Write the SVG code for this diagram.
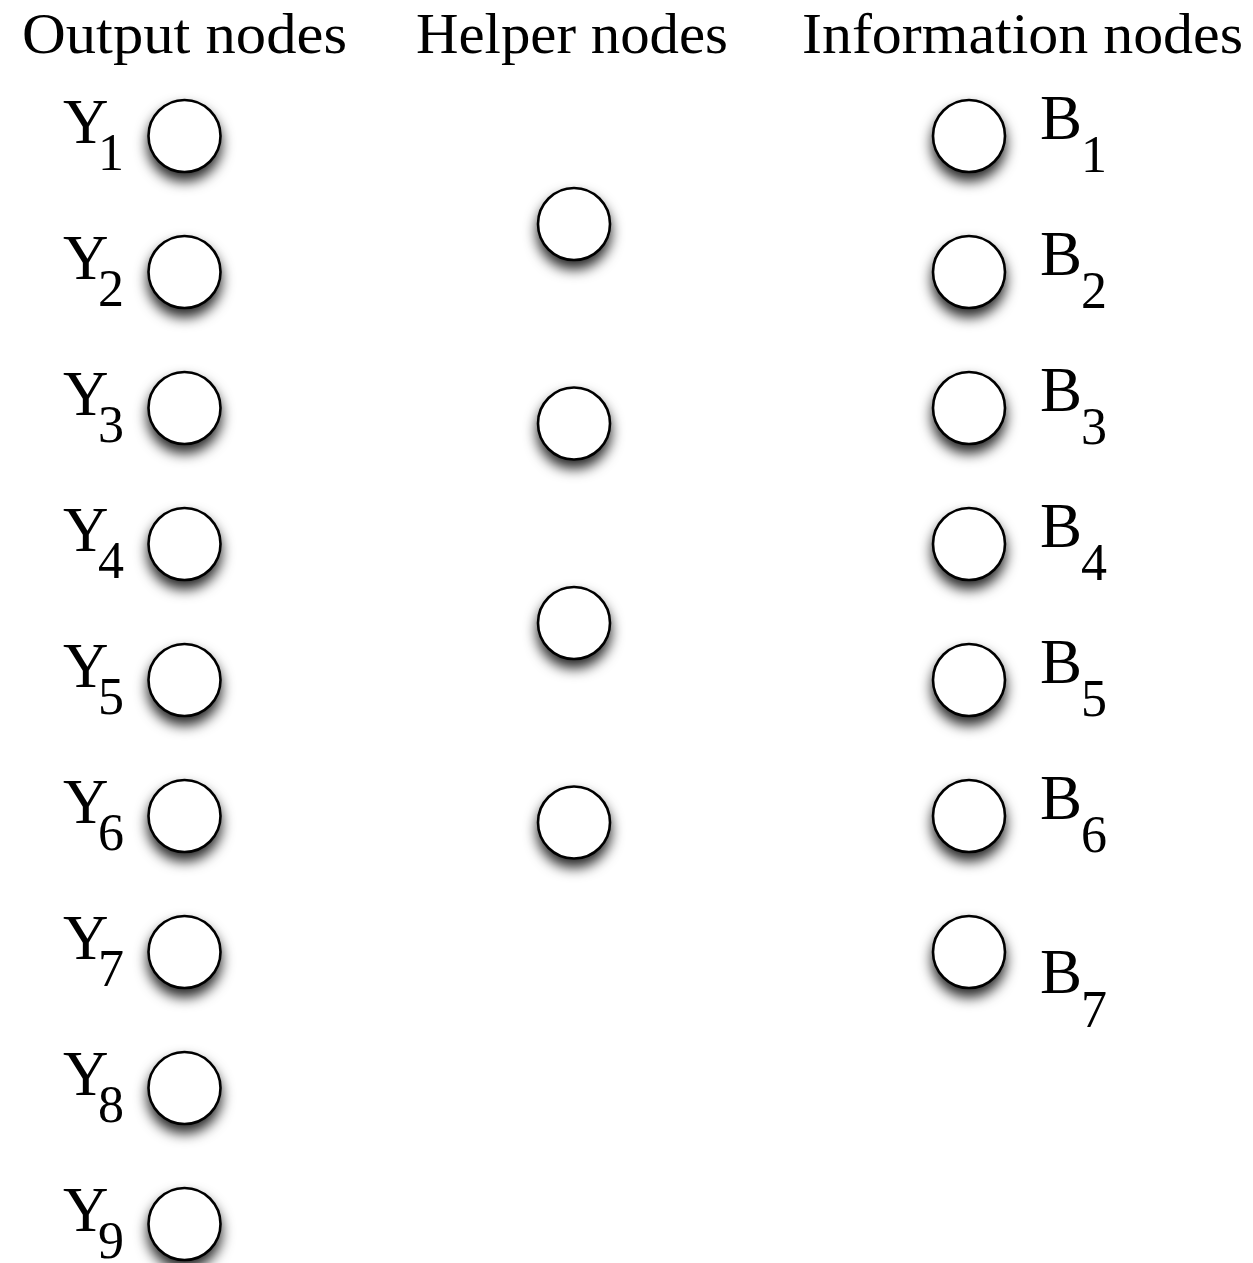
<svg xmlns="http://www.w3.org/2000/svg" width="1253" height="1263" viewBox="0 0 1253 1263">
  <style>
    .head { font-family: "Liberation Serif", "Times New Roman", serif; font-size: 57px; fill: #000; }
    .lbl { font-family: "Liberation Serif", "Times New Roman", serif; font-size: 63px; fill: #000; }
    .sub { font-size: 52px; }
    .node { fill: #fff; stroke: #000; stroke-width: 2.6; filter: url(#shadow); }
  </style>
  <defs>
    <filter id="shadow" x="-60%" y="-60%" width="220%" height="240%">
      <feDropShadow dx="0" dy="8" stdDeviation="6.5" flood-color="#000" flood-opacity="0.85"/>
    </filter>
  </defs>
  <rect width="1253" height="1263" fill="#fff"/>

  <!-- column headings -->
  <g id="headings">
    <text class="head" x="22" y="53" textLength="325" lengthAdjust="spacingAndGlyphs">Output nodes</text>
    <text class="head" x="416" y="53" textLength="312" lengthAdjust="spacingAndGlyphs">Helper nodes</text>
    <text class="head" x="802" y="53" textLength="441" lengthAdjust="spacingAndGlyphs">Information nodes</text>
  </g>

  <!-- output nodes Y1..Y9 -->
  <g id="Y1"><circle class="node" cx="184.5" cy="136" r="36"/><text class="lbl" x="63" y="143">Y<tspan class="sub" x="98" y="170">1</tspan></text></g>
  <g id="Y2"><circle class="node" cx="184.5" cy="272" r="36"/><text class="lbl" x="63" y="279">Y<tspan class="sub" x="98" y="306">2</tspan></text></g>
  <g id="Y3"><circle class="node" cx="184.5" cy="408" r="36"/><text class="lbl" x="63" y="415">Y<tspan class="sub" x="98" y="442">3</tspan></text></g>
  <g id="Y4"><circle class="node" cx="184.5" cy="544" r="36"/><text class="lbl" x="63" y="551">Y<tspan class="sub" x="98" y="578">4</tspan></text></g>
  <g id="Y5"><circle class="node" cx="184.5" cy="680" r="36"/><text class="lbl" x="63" y="687">Y<tspan class="sub" x="98" y="714">5</tspan></text></g>
  <g id="Y6"><circle class="node" cx="184.5" cy="816" r="36"/><text class="lbl" x="63" y="823">Y<tspan class="sub" x="98" y="850">6</tspan></text></g>
  <g id="Y7"><circle class="node" cx="184.5" cy="952" r="36"/><text class="lbl" x="63" y="959">Y<tspan class="sub" x="98" y="986">7</tspan></text></g>
  <g id="Y8"><circle class="node" cx="184.5" cy="1088" r="36"/><text class="lbl" x="63" y="1095">Y<tspan class="sub" x="98" y="1122">8</tspan></text></g>
  <g id="Y9"><circle class="node" cx="184.5" cy="1224" r="36"/><text class="lbl" x="63" y="1231">Y<tspan class="sub" x="98" y="1258">9</tspan></text></g>

  <!-- helper nodes -->
  <g id="H1"><circle class="node" cx="574" cy="224" r="36"/></g>
  <g id="H2"><circle class="node" cx="574" cy="423.5" r="36"/></g>
  <g id="H3"><circle class="node" cx="574" cy="623" r="36"/></g>
  <g id="H4"><circle class="node" cx="574" cy="822.5" r="36"/></g>

  <!-- information nodes B1..B7 -->
  <g id="B1"><circle class="node" cx="969" cy="136" r="36"/><text class="lbl" x="1040" y="139">B<tspan class="sub" x="1081" y="172">1</tspan></text></g>
  <g id="B2"><circle class="node" cx="969" cy="272" r="36"/><text class="lbl" x="1040" y="275">B<tspan class="sub" x="1081" y="308">2</tspan></text></g>
  <g id="B3"><circle class="node" cx="969" cy="408" r="36"/><text class="lbl" x="1040" y="411">B<tspan class="sub" x="1081" y="444">3</tspan></text></g>
  <g id="B4"><circle class="node" cx="969" cy="544" r="36"/><text class="lbl" x="1040" y="547">B<tspan class="sub" x="1081" y="580">4</tspan></text></g>
  <g id="B5"><circle class="node" cx="969" cy="680" r="36"/><text class="lbl" x="1040" y="683">B<tspan class="sub" x="1081" y="716">5</tspan></text></g>
  <g id="B6"><circle class="node" cx="969" cy="816" r="36"/><text class="lbl" x="1040" y="819">B<tspan class="sub" x="1081" y="852">6</tspan></text></g>
  <g id="B7"><circle class="node" cx="969" cy="952" r="36"/><text class="lbl" x="1040" y="993">B<tspan class="sub" x="1081" y="1027">7</tspan></text></g>

  <g id="connectors"/>
</svg>
